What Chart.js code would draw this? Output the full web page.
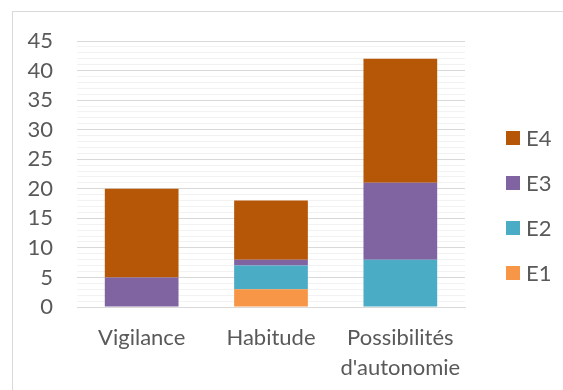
<!DOCTYPE html>
<html lang="fr">
<head>
    <meta charset="UTF-8">
    <title>Répartition E1-E4</title>
    <script src="https://cdn.jsdelivr.net/npm/chart.js"></script>
    <style>
        body { margin: 0; background: #fff; overflow: hidden; }
        #wrap { position: relative; width: 563px; height: 390px; }
        #frame { position: absolute; left: 12px; top: 11px; width: 600px; height: 400px;
                 border-left: 1px solid #d9d9d9; border-top: 1px solid #d9d9d9; pointer-events: none; }
    </style>
</head>
<body>
    <div id="wrap">
        <canvas id="chart" width="563" height="390"></canvas>
        <div id="frame"></div>
    </div>

    <script>
        const categories = ['Vigilance', 'Habitude', ['Possibilités', "d'autonomie"]];
        const e1 = [0, 3, 0];
        const e2 = [0, 4, 8];
        const e3 = [5, 1, 13];
        const e4 = [15, 10, 21];
        const yTicks = [0, 5, 10, 15, 20, 25, 30, 35, 40, 45];

        const fontFamily = 'Lato, "Open Sans", sans-serif';
        const font = { family: fontFamily, size: 22 };
        const textColor = '#595959';

        // legend on the right, drawn top-down in reverse dataset order
        const sideLegend = {
            id: 'sideLegend',
            afterDraw(chart) {
                const c = chart.ctx;
                const sets = chart.data.datasets.slice().reverse();
                c.save();
                c.font = `${font.size}px ${fontFamily}`;
                c.textBaseline = 'middle';
                c.textAlign = 'left';
                sets.forEach((ds, i) => {
                    const y = 138 + i * 45;
                    c.fillStyle = ds.backgroundColor;
                    c.fillRect(506, y - 7, 14, 14);
                    c.fillStyle = textColor;
                    c.fillText(ds.label, 526, y + 1);
                });
                c.restore();
            }
        };

        const ctx = document.getElementById('chart').getContext('2d');
        new Chart(ctx, {
            type: 'bar',
            data: {
                labels: categories,
                datasets: [
                    { label: 'E1', data: e1, backgroundColor: '#f79646' },
                    { label: 'E2', data: e2, backgroundColor: '#4bacc6' },
                    { label: 'E3', data: e3, backgroundColor: '#8064a2' },
                    { label: 'E4', data: e4, backgroundColor: '#b65708' }
                ]
            },
            plugins: [sideLegend],
            options: {
                responsive: false,
                animation: false,
                layout: { padding: { left: 13, top: 41, right: 98, bottom: 0 } },
                datasets: { bar: { categoryPercentage: 1, barPercentage: 0.57 } },
                plugins: {
                    tooltip: { enabled: false },
                    legend: { display: false }
                },
                scales: {
                    x: {
                        stacked: true,
                        grid: { display: false },
                        border: { display: true, color: '#d9d9d9' },
                        ticks: { font: { ...font, lineHeight: 1.36 }, color: textColor, padding: 8, maxRotation: 0 },
                        afterFit(scale) { scale.height = 83; }
                    },
                    y: {
                        stacked: true,
                        min: 0, max: 45,
                        border: { display: false },
                        afterBuildTicks(scale) {
                            // major ticks every 5, minor gridlines every 1
                            const t = [];
                            for (let v = 0; v <= 45; v++) t.push({ value: v });
                            scale.ticks = t;
                        },
                        ticks: {
                            font: font, color: textColor, padding: 24, autoSkip: false,
                            callback: v => yTicks.includes(v) ? String(v) : ''
                        },
                        grid: {
                            drawTicks: false,
                            color: c => (c.tick && c.tick.value % 5 === 0) ? '#d9d9d9' : '#f2f2f2'
                        },
                        afterFit(scale) { scale.width = 64; }
                    }
                }
            }
        });
    </script>
</body>
</html>
